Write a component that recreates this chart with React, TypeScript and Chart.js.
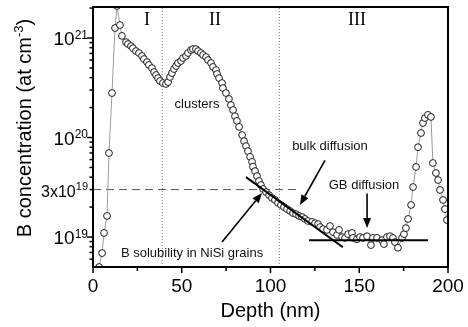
import { useEffect, useRef } from "react";
import { Chart, registerables } from "chart.js";

Chart.register(...registerables);

// ---- Data ----
const depthNm = [
  3.4, 5.1, 6.2, 7.9, 9.0, 10.7, 12.4, 13.5, 15.2, 16.3,
  18.6, 19.7, 21.4, 22.5, 24.2, 25.9, 27.6, 28.7, 30.4, 31.5, 33.2, 34.4, 35.5, 36.6, 37.7, 39.4, 41.1,
  42.3, 43.4, 44.5, 45.6, 46.8, 47.9, 49.6, 50.7, 52.4, 53.5, 55.2, 56.3, 58.0, 59.2, 60.8, 62.0, 63.7,
  64.8, 66.5, 67.6, 69.3, 69.9, 71.0, 72.7, 73.2, 74.9, 76.6, 77.7, 78.9, 80.0, 81.1, 82.3, 84.0, 85.1,
  86.2, 87.3, 88.5, 89.6, 90.1, 91.3, 92.4, 93.5, 94.6, 95.8, 97.5, 99.2, 100.8, 102.5, 104.2, 105.9,
  107.6, 109.3, 111.0, 112.7, 114.4, 116.1, 117.7, 119.4, 121.1, 123.4, 125.1, 126.8, 127.9, 129.6,
  131.8, 133.5, 135.2, 137.5, 138.6, 140.3, 142.0, 143.7, 145.9, 146.5, 148.7, 150.4, 152.1, 154.4,
  156.6, 157.7, 160.0, 162.8, 163.9, 165.6, 167.3, 169.0, 170.1, 171.8, 174.1, 175.2, 176.3, 177.5,
  179.2, 180.3, 182.0, 183.1, 184.8, 185.9, 187.0, 188.7, 190.4, 191.5, 193.2, 194.4, 195.5, 197.2,
  198.3, 199.4,
];
const boronConc = [
  5.0e18, 6.9e18, 1.1e19, 1.63e19, 6.98e19, 2.8e20, 1.26e21, 2.1e21, 1.35e21, 1.05e21,
  9.1e20, 8.7e20, 8.3e20, 7.9e20, 7.4e20, 7.07e20, 6.6e20, 6.15e20, 5.74e20, 5.36e20, 4.99e20, 4.55e20, 4.25e20, 3.96e20, 3.7e20, 3.53e20, 3.45e20,
  3.61e20, 4.06e20, 4.45e20, 4.88e20, 5.23e20, 5.61e20, 5.87e20, 6.29e20, 6.6e20, 7.07e20, 7.57e20, 7.75e20, 7.75e20, 7.4e20, 7.07e20, 6.75e20, 6.44e20,
  6.01e20, 5.61e20, 5.12e20, 4.77e20, 4.35e20, 3.96e20, 3.53e20, 3.14e20, 2.8e20, 2.44e20, 2.12e20, 1.89e20, 1.64e20, 1.47e20, 1.28e20, 1.06e20, 9.2e19,
  8.2e19, 7.3e19, 6.4e19, 5.7e19, 5.1e19, 4.6e19, 4.1e19, 3.66e19, 3.33e19, 3.04e19, 2.83e19, 2.64e19, 2.47e19, 2.36e19, 2.2e19, 2.1e19,
  2.0e19, 1.91e19, 1.83e19, 1.74e19, 1.7e19, 1.63e19, 1.59e19, 1.52e19, 1.45e19, 1.42e19, 1.38e19, 1.35e19, 1.26e19, 1.2e19,
  1.18e19, 1.29e19, 1.12e19, 1.05e19, 1.18e19, 1.0e19, 9.8e18, 1.07e19, 1.1e19, 9.8e18, 9.5e18, 1.0e19, 9.8e18, 1.02e19,
  8.3e18, 9.8e18, 9.8e18, 9.3e18, 8.5e18, 1.0e19, 1.02e19, 9.8e18, 8.9e18, 7.8e18, 9.8e18, 1.07e19, 1.23e19, 1.52e19,
  2.1e19, 3.18e19, 5.06e19, 8.0e19, 1.11e20, 1.4e20, 1.57e20, 1.69e20, 1.61e20, 5.55e19, 4.4e19, 3.74e19, 2.97e19, 2.36e19,
  1.91e19, 1.48e19,
];

// fitted lines
const bulkFitDepth = [86.2, 140.8];
const bulkFitConc = [4.0e19, 7.9e18];
const gbFitDepth = [121.7, 188.7];
const gbFitConc = [9.3e18, 9.3e18];

// guides
const solubilityLevel = 3e19;
const solubilityLineEnd = 117;
const regionBounds = [39, 105];
const regionLabels = ["I", "II", "III"];
const regionLabelDepth = [30.4, 68.7, 148.7];
const regionLabelConc = 1.5e21;

// axes
const xMin = 0;
const xMax = 200;
const yMin = 5e18;
const yMax = 2.05e21;
const xMajorTicks = [0, 50, 100, 150, 200];
const xMinorTicks = [25, 75, 125, 175];
const yMajorTicks = [1e19, 1e20, 1e21];
const yMajorLabelSup = ["19", "20", "21"];
const yMinorTicks = [
  6e18, 7e18, 8e18, 9e18,
  2e19, 3e19, 4e19, 5e19, 6e19, 7e19, 8e19, 9e19,
  2e20, 3e20, 4e20, 5e20, 6e20, 7e20, 8e20, 9e20,
  2e21,
];
const xTitle = "Depth (nm)";
const yTitleMain = "B concentration (at cm";
const yTitleSup = "-3";

// annotations
const noteTexts = ["clusters", "bulk diffusion", "GB diffusion", "B solubility in NiSi grains"];
const noteDepth = [58.6, 133.5, 152.7, 55.8];
const noteConc = [2.17e20, 8.2e19, 3.33e19, 6.9e18];
const arrowFromDepth = [72.7, 130.7, 154.4];
const arrowFromConc = [8.9e18, 5.9e19, 2.74e19];
const arrowToDepth = [95.2, 116.6, 154.4];
const arrowToConc = [2.77e19, 2.1e19, 1.23e19];

const SANS = '"Liberation Sans", Arial, sans-serif';
const SERIF = '"Liberation Serif", "Times New Roman", serif';

function drawArrow(ctx: CanvasRenderingContext2D, x1: number, y1: number, x2: number, y2: number) {
  const ang = Math.atan2(y2 - y1, x2 - x1);
  const hl = 10;
  const hw = 4;
  const bx = x2 - hl * Math.cos(ang);
  const by = y2 - hl * Math.sin(ang);
  ctx.beginPath();
  ctx.moveTo(x1, y1);
  ctx.lineTo(bx, by);
  ctx.stroke();
  ctx.beginPath();
  ctx.moveTo(x2, y2);
  ctx.lineTo(bx + hw * Math.sin(ang), by - hw * Math.cos(ang));
  ctx.lineTo(bx - hw * Math.sin(ang), by + hw * Math.cos(ang));
  ctx.closePath();
  ctx.fill();
}

const decorPlugin = {
  id: "decor",
  afterDatasetsDraw(chart: any) {
    const { ctx, chartArea: a } = chart;
    const xs = chart.scales.x;
    const ys = chart.scales.y;
    ctx.save();
    ctx.fillStyle = "#000";
    ctx.strokeStyle = "#000";

    // frame
    ctx.lineWidth = 2;
    ctx.strokeRect(a.left, a.top, a.right - a.left, a.bottom - a.top);

    // x ticks
    ctx.lineWidth = 1.5;
    xMajorTicks.forEach((v) => {
      const px = xs.getPixelForValue(v);
      ctx.beginPath();
      ctx.moveTo(px, a.bottom);
      ctx.lineTo(px, a.bottom + 6);
      ctx.stroke();
    });
    xMinorTicks.forEach((v) => {
      const px = xs.getPixelForValue(v);
      ctx.beginPath();
      ctx.moveTo(px, a.bottom);
      ctx.lineTo(px, a.bottom + 4);
      ctx.stroke();
    });
    ctx.font = `19px ${SANS}`;
    ctx.textAlign = "center";
    ctx.textBaseline = "alphabetic";
    xMajorTicks.forEach((v) => {
      ctx.fillText(String(v), xs.getPixelForValue(v), a.bottom + 25);
    });

    // y ticks
    yMajorTicks.forEach((v) => {
      const py = ys.getPixelForValue(v);
      ctx.beginPath();
      ctx.moveTo(a.left, py);
      ctx.lineTo(a.left - 6, py);
      ctx.stroke();
    });
    yMinorTicks.forEach((v) => {
      const py = ys.getPixelForValue(v);
      ctx.beginPath();
      ctx.moveTo(a.left, py);
      ctx.lineTo(a.left - 3.5, py);
      ctx.stroke();
    });
    const drawPow = (pre: string, sup: string, py: number, size: number, supSize: number) => {
      const right = a.left - 5;
      ctx.textAlign = "right";
      ctx.font = `${supSize}px ${SANS}`;
      const ws = ctx.measureText(sup).width;
      ctx.fillText(sup, right, py + 0.5);
      ctx.font = `${size}px ${SANS}`;
      ctx.fillText(pre, right - ws, py + 7);
    };
    yMajorTicks.forEach((v, i) => drawPow("10", yMajorLabelSup[i], ys.getPixelForValue(v), 19, 12));
    drawPow("3x10", "19", ys.getPixelForValue(solubilityLevel), 16, 11);

    // axis titles
    ctx.font = `20px ${SANS}`;
    ctx.textAlign = "center";
    ctx.fillText(xTitle, (a.left + a.right) / 2, a.bottom + 50);

    ctx.save();
    ctx.translate(31, 128);
    ctx.rotate(-Math.PI / 2);
    ctx.textAlign = "left";
    ctx.font = `20px ${SANS}`;
    const w1 = ctx.measureText(yTitleMain).width;
    const w3 = ctx.measureText(")").width;
    ctx.font = `13px ${SANS}`;
    const w2 = ctx.measureText(yTitleSup).width;
    const start = -(w1 + w2 + w3) / 2;
    ctx.font = `20px ${SANS}`;
    ctx.fillText(yTitleMain, start, 0);
    ctx.fillText(")", start + w1 + w2, 0);
    ctx.font = `13px ${SANS}`;
    ctx.fillText(yTitleSup, start + w1, -8);
    ctx.restore();

    // region labels
    ctx.font = `18px ${SERIF}`;
    ctx.textAlign = "center";
    ctx.textBaseline = "middle";
    regionLabels.forEach((t, i) => {
      ctx.fillText(t, xs.getPixelForValue(regionLabelDepth[i]), ys.getPixelForValue(regionLabelConc));
    });

    // notes
    ctx.font = `13px ${SANS}`;
    ctx.fillStyle = "#111";
    noteTexts.forEach((t, i) => {
      ctx.fillText(t, xs.getPixelForValue(noteDepth[i]), ys.getPixelForValue(noteConc[i]));
    });

    // arrows
    ctx.fillStyle = "#000";
    ctx.lineWidth = 1.6;
    arrowFromDepth.forEach((_, i) => {
      drawArrow(
        ctx,
        xs.getPixelForValue(arrowFromDepth[i]),
        ys.getPixelForValue(arrowFromConc[i]),
        xs.getPixelForValue(arrowToDepth[i]),
        ys.getPixelForValue(arrowToConc[i])
      );
    });
    ctx.restore();
  },
};

export default function App() {
  const ref = useRef<HTMLCanvasElement | null>(null);
  useEffect(() => {
    document.body.style.margin = "0";
    const canvas = ref.current!;
    const profile = depthNm.map((d, i) => ({ x: d, y: boronConc[i] }));
    const chart = new Chart(canvas, {
      type: "scatter",
      data: {
        datasets: [
          {
            label: "bulk fit",
            data: bulkFitDepth.map((d, i) => ({ x: d, y: bulkFitConc[i] })),
            showLine: true,
            borderColor: "#000",
            borderWidth: 2,
            pointRadius: 0,
            order: 0,
          },
          {
            label: "GB fit",
            data: gbFitDepth.map((d, i) => ({ x: d, y: gbFitConc[i] })),
            showLine: true,
            borderColor: "#000",
            borderWidth: 2,
            pointRadius: 0,
            order: 0,
          },
          {
            label: "B profile",
            data: profile,
            showLine: true,
            borderColor: "#9a9a9a",
            borderWidth: 1,
            pointRadius: 3.4,
            pointBorderWidth: 1,
            pointBorderColor: "#1a1a1a",
            pointBackgroundColor: "#ffffff",
            order: 1,
          },
          {
            label: "solubility",
            data: [
              { x: xMin, y: solubilityLevel },
              { x: solubilityLineEnd, y: solubilityLevel },
            ],
            showLine: true,
            borderColor: "#555",
            borderWidth: 1,
            borderDash: [8, 5],
            pointRadius: 0,
            order: 2,
          },
          ...regionBounds.map((b) => ({
            label: "bound",
            data: [
              { x: b, y: yMin },
              { x: b, y: yMax },
            ],
            showLine: true,
            borderColor: "#777",
            borderWidth: 1,
            borderDash: [1, 2],
            pointRadius: 0,
            order: 3,
          })),
        ],
      },
      options: {
        animation: false,
        responsive: false,
        devicePixelRatio: 1,
        layout: { padding: { left: 93, top: 7, right: 20, bottom: 60 } },
        scales: {
          x: { type: "linear", min: xMin, max: xMax, display: false },
          y: { type: "logarithmic", min: yMin, max: yMax, display: false },
        },
        plugins: {
          legend: { display: false },
          tooltip: { enabled: false },
        },
      },
      plugins: [decorPlugin],
    });
    return () => chart.destroy();
  }, []);
  return (
    <div style={{ position: "absolute", left: 0, top: 0, width: 468, height: 327, background: "#fff" }}>
      <canvas ref={ref} width={468} height={327} />
    </div>
  );
}
